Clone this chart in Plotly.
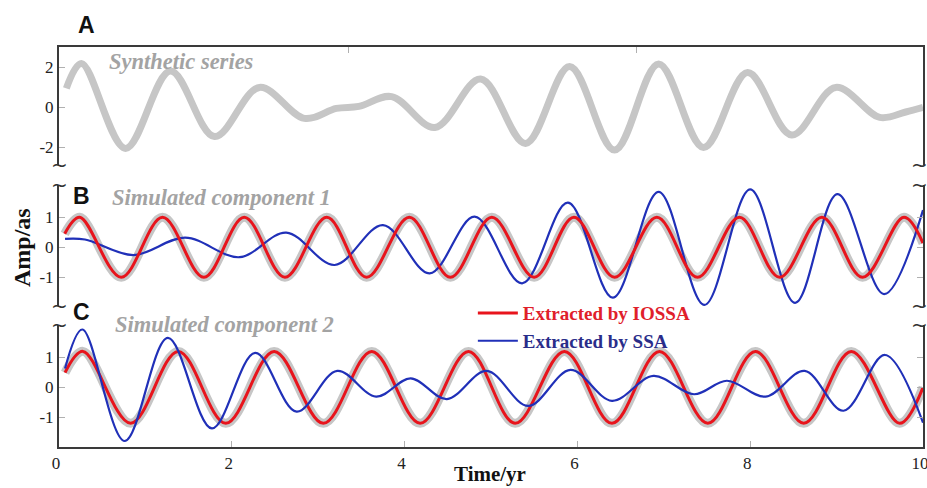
import plotly.graph_objects as go

# ---------------- data ----------------
# Panel A: synthetic series
synth_t = [0.085, 0.26, 0.77, 1.29, 1.80, 2.32, 2.84, 3.21, 3.47, 3.85, 4.35, 4.88, 5.40,
           5.91, 6.43, 6.94, 7.46, 7.97, 8.48, 8.99, 9.50, 9.80, 10.0]
synth_amp = [0.93, 2.18, -2.07, 1.80, -1.48, 0.98, -0.57, -0.07, 0.03, 0.52, -1.02, 1.40, -1.82,
             2.02, -2.15, 2.15, -2.02, 1.72, -1.40, 0.98, -0.52, -0.25, -0.02]

# Panel B: component 1
comp1_t = [0.066, 0.24, 0.72, 1.198, 1.677, 2.144, 2.615, 3.10, 3.56, 4.055, 4.53, 5.01, 5.50,
           5.96, 6.43, 6.92, 7.39, 7.876, 8.34, 8.83, 9.30, 9.78, 10.0]
comp1_sim = [0.45, 1.0, -1.0, 1.0, -1.0, 1.0, -1.0, 1.0, -1.0, 1.0, -1.0, 1.0, -1.0,
             1.0, -1.0, 1.0, -1.0, 1.0, -1.0, 1.0, -1.0, 1.0, 0.14]
comp1_iossa = [0.45, 1.0, -1.0, 1.0, -1.0, 1.0, -1.0, 1.0, -1.0, 1.0, -1.0, 1.0, -1.0,
               1.0, -1.0, 1.0, -1.0, 1.0, -1.0, 1.0, -1.0, 1.0, 0.14]
ssa1_t = [0.07, 0.30, 0.86, 1.46, 2.09, 2.63, 3.19, 3.75, 4.29, 4.81, 5.36, 5.89, 6.41,
          6.94, 7.47, 8.00, 8.52, 9.01, 9.55, 10.0]
ssa1_amp = [0.28, 0.26, -0.26, 0.32, -0.33, 0.49, -0.59, 0.74, -0.87, 1.02, -1.20, 1.49, -1.68,
            1.85, -1.92, 1.93, -1.85, 1.77, -1.56, 1.24]

# Panel C: component 2
comp2_t = [0.07, 0.278, 0.83, 1.38, 1.93, 2.49, 3.06, 3.62, 4.18, 4.74, 5.28, 5.85, 6.40,
           6.95, 7.51, 8.06, 8.62, 9.17, 9.73, 10.0]
comp2_sim = [0.49, 1.2, -1.2, 1.2, -1.2, 1.2, -1.2, 1.2, -1.2, 1.2, -1.2, 1.2, -1.2,
             1.2, -1.2, 1.2, -1.2, 1.2, -1.2, 0.0]
comp2_iossa = [0.49, 1.2, -1.2, 1.2, -1.2, 1.2, -1.2, 1.2, -1.2, 1.2, -1.2, 1.2, -1.2,
               1.2, -1.2, 1.2, -1.2, 1.2, -1.2, 0.0]
ssa2_t = [0.07, 0.27, 0.76, 1.26, 1.77, 2.27, 2.75, 3.22, 3.67, 4.07, 4.49, 4.95, 5.43,
          5.92, 6.40, 6.88, 7.35, 7.73, 8.18, 8.63, 9.08, 9.56, 10.0]
ssa2_amp = [0.63, 1.93, -1.79, 1.65, -1.37, 1.15, -0.81, 0.55, -0.31, 0.30, -0.39, 0.55, -0.62,
            0.58, -0.45, 0.38, -0.23, 0.22, -0.31, 0.55, -0.78, 1.08, -1.18]

x_ticks = [0, 2, 4, 6, 8, 10]
x_ticktext = ["0", "2", "4", "6", "8", "10"]
ya_ticks = [-2, 0, 2]
ya_ticktext = ["-2", "0", "2"]
yb_ticks = [-1, 0, 1]
yb_ticktext = ["-1", "0", "1"]

panel_labels = ["A", "B", "C"]
panel_titles = ["Synthetic series", "Simulated component 1", "Simulated component 2"]
legend_names = ["Extracted by IOSSA", "Extracted by SSA"]

# ---------------- style ----------------
GRAY = "#c6c6c6"
RED = "#e8141c"
BLUE = "#2030b8"
RED_TXT = "#e0202a"
BLUE_TXT = "#2a2d8a"
AXC = "#3a3a3a"
TICKC = "#b0b0b0"
SERIF = "Liberation Serif"

fig = go.Figure()

fig.add_trace(go.Scatter(x=synth_t, y=synth_amp, mode="lines", line=dict(color=GRAY, width=7, shape="spline"),
                         showlegend=False, xaxis="x", yaxis="y"))

fig.add_trace(go.Scatter(x=comp1_t, y=comp1_sim, mode="lines", line=dict(color=GRAY, width=9, shape="spline"),
                         showlegend=False, xaxis="x2", yaxis="y2"))
fig.add_trace(go.Scatter(x=ssa1_t, y=ssa1_amp, mode="lines", line=dict(color=BLUE, width=2.2, shape="spline"),
                         showlegend=False, xaxis="x2", yaxis="y2"))
fig.add_trace(go.Scatter(x=comp1_t, y=comp1_iossa, mode="lines", line=dict(color=RED, width=3, shape="spline"),
                         showlegend=False, xaxis="x2", yaxis="y2"))

fig.add_trace(go.Scatter(x=comp2_t, y=comp2_sim, mode="lines", line=dict(color=GRAY, width=9, shape="spline"),
                         showlegend=False, xaxis="x3", yaxis="y3"))
fig.add_trace(go.Scatter(x=comp2_t, y=comp2_iossa, mode="lines", line=dict(color=RED, width=3, shape="spline"),
                         name="<span style='color:%s'><b>%s</b></span>" % (RED_TXT, legend_names[0]),
                         showlegend=True, xaxis="x3", yaxis="y3"))
fig.add_trace(go.Scatter(x=ssa2_t, y=ssa2_amp, mode="lines", line=dict(color=BLUE, width=2.2, shape="spline"),
                         name="<span style='color:%s'><b>%s</b></span>" % (BLUE_TXT, legend_names[1]),
                         showlegend=True, xaxis="x3", yaxis="y3"))

tickfont = dict(family=SERIF, size=17, color="#222")

dA = [0.705, 1.0]
dB = [0.3525, 0.655]
dC = [0.0, 0.305]

fig.update_layout(
    width=927, height=488,
    margin=dict(l=59, r=4, t=47, b=41, autoexpand=False),
    paper_bgcolor="white", plot_bgcolor="white",
    showlegend=True,
    legend=dict(x=0.479, y=0.382, xanchor="left", yanchor="top", bgcolor="rgba(0,0,0,0)",
                font=dict(family=SERIF, size=19), tracegroupgap=0, itemwidth=40),
    xaxis=dict(domain=[0, 1], range=[0, 10], anchor="y", side="top", showline=True, linecolor=AXC,
               linewidth=2, ticks="inside", tickvals=[3.35, 6.68], ticklen=6, tickcolor=TICKC,
               showticklabels=False, showgrid=False, zeroline=False, automargin=False),
    xaxis2=dict(domain=[0, 1], range=[0, 10], anchor="y2", matches="x", visible=False),
    xaxis3=dict(domain=[0, 1], range=[0, 10], anchor="y3", matches="x", showline=True, linecolor=AXC,
                linewidth=2, ticks="inside", tickvals=x_ticks, ticktext=x_ticktext, ticklen=6,
                tickcolor=TICKC, tickfont=tickfont, showgrid=False, zeroline=False,
                ticklabeloverflow="allow", ticklabelshift=-3, automargin=False),
    yaxis=dict(domain=dA, range=[-2.9, 3.0], anchor="x", showline=True, mirror=True, linecolor=AXC,
               linewidth=2, ticks="inside", tickvals=ya_ticks, ticktext=ya_ticktext, ticklen=6,
               tickcolor=TICKC, tickfont=tickfont, showgrid=False, zeroline=False, automargin=False),
    yaxis4=dict(domain=dA, range=[-2.9, 3.0], overlaying="y", side="right", anchor="x", showline=False,
                ticks="inside", tickvals=[-1, 1], ticklen=6, tickcolor=TICKC, showticklabels=False,
                showgrid=False, zeroline=False, automargin=False),
    yaxis2=dict(domain=dB, range=[-1.957, 2.077], anchor="x2", showline=True, mirror="all", linecolor=AXC,
                linewidth=2, ticks="inside", tickvals=yb_ticks, ticktext=yb_ticktext, ticklen=6,
                tickcolor=TICKC, tickfont=tickfont, showgrid=False, zeroline=False, automargin=False),
    yaxis3=dict(domain=dC, range=[-1.99, 2.08], anchor="x3", showline=True, mirror="all", linecolor=AXC,
                linewidth=2, ticks="inside", tickvals=yb_ticks, ticktext=yb_ticktext, ticklen=6,
                tickcolor=TICKC, tickfont=tickfont, showgrid=False, zeroline=False, automargin=False),
)

ann = []
# panel letters
for lab, (px, py) in zip(panel_labels, [(0.03125, 1.055), (0.0266, 0.6275), (0.0266, 0.3375)]):
    ann.append(dict(text="<b>%s</b>" % lab, x=px, y=py, xref="paper", yref="paper", showarrow=False,
                    xanchor="center", yanchor="middle",
                    font=dict(family="Liberation Sans", size=23, color="#111")))
# panel titles
for t, (px, py) in zip(panel_titles, [(0.0556, 0.965), (0.059, 0.625), (0.0625, 0.3075)]):
    ann.append(dict(text="<b><i>%s</i></b>" % t, x=px, y=py, xref="paper", yref="paper", showarrow=False,
                    xanchor="left", yanchor="middle",
                    font=dict(family=SERIF, size=22.5, color="#a3a3a3")))
# axis titles
ann.append(dict(text="<b>Amp/as</b>", x=-0.0428, y=0.4975, xref="paper", yref="paper", showarrow=False,
                textangle=-90, xanchor="center", yanchor="middle",
                font=dict(family=SERIF, size=24, color="#111")))
ann.append(dict(text="<b>Time/yr</b>", x=0.499, y=-0.0675, xref="paper", yref="paper", showarrow=False,
                xanchor="center", yanchor="middle",
                font=dict(family=SERIF, size=21, color="#111")))
# axis break marks
for px, shift in [(0.0, 0), (1.0, -4)]:
    for py in [dA[0], dB[1], dB[0], dC[1]]:
        ann.append(dict(text="~", x=px, y=py, xref="paper", yref="paper", showarrow=False,
                        xanchor="center", yanchor="middle", xshift=shift,
                        font=dict(family="DejaVu Sans", size=20, color="#333")))
fig.update_layout(annotations=ann)

fig.write_html("out.html")
